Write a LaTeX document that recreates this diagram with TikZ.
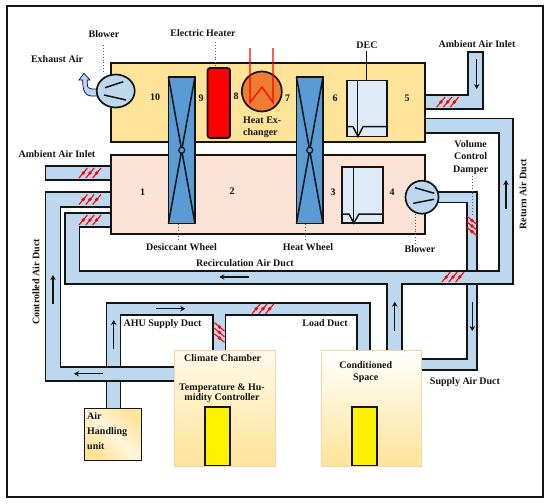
\documentclass[tikz,border=0pt]{standalone}
\usepackage{fontspec}
\usetikzlibrary{shapes.geometric,arrows.meta}
\setmainfont{Liberation Serif}
\definecolor{duct}{HTML}{BDD7EE}
\definecolor{ybox}{HTML}{FFE399}
\definecolor{pbox}{HTML}{FDE3D5}
\definecolor{wheelblue}{HTML}{5B9BD5}
\definecolor{pale}{HTML}{DEEBF7}
\definecolor{hxorange}{HTML}{ED7D31}
\definecolor{ink}{HTML}{141414}
\newcommand{\damperat}[4]{%
  \begin{scope}[shift={(#1,#2)},rotate=#3]
    \foreach \dd in {-#4,0,#4}{
      \draw[red,line width=1.1pt] (\dd-4.2,5) -- (\dd+4.2,-5);
      \fill[red] (\dd,0) circle (1.9);
    }
  \end{scope}}
\begin{document}
\begin{tikzpicture}[x=1pt,y=-1pt,
  lbl/.style={font=\fontsize{10}{11}\selectfont\bfseries,text=ink,inner sep=0pt,align=center},
  ductfill/.style={fill=duct,draw=none},
  ductline/.style={draw=ink,line width=1.7pt,line join=miter},
  boxline/.style={draw=ink,line width=1.7pt},
  flow/.style={draw=ink,line width=1.3pt,-{Stealth[length=5pt,width=5.5pt]}},
  leader/.style={draw=gray!70!black,line width=0.9pt,dotted},
  thick2/.style={draw=ink,line width=1.5pt},
  comp/.style={inner sep=0pt,outer sep=0pt,rectangle}]
\useasboundingbox (0,0) rectangle (550,504);
\fill[white] (0,0) rectangle (550,504);
\draw[draw=ink,line width=1.8pt] (7,6) rectangle (543,497);

% ---- ducts ----
% right ambient inlet
\fill[ductfill] (425,95) -- (468.3,95) -- (468.3,52) -- (482.7,52) -- (482.7,109) -- (425,109) -- cycle;
\draw[ductline] (425,95) -- (468.3,95) -- (468.3,52) -- (482.7,52) -- (482.7,109) -- (425,109);
% left ambient inlet
\fill[ductfill] (45.5,166) rectangle (111,180);
\draw[ductline] (111,166) -- (45.5,166) -- (45.5,180) -- (111,180);
% supply duct
\fill[ductfill] (430,192) -- (477.3,192) -- (477.3,370) -- (421,370) -- (421,359) -- (466.7,359) -- (466.7,202.5) -- (430,202.5) -- cycle;
\draw[ductline] (430,192) -- (477.3,192) -- (477.3,370) -- (421,370);
\draw[ductline] (430,202.5) -- (466.7,202.5) -- (466.7,359) -- (421,359);
% return + recirculation duct
\fill[ductfill] (425,118.5) -- (513,118.5) -- (513,284.3) -- (401.7,284.3) -- (401.7,350) -- (387,350) -- (387,284.3) -- (65,284.3) -- (65,213) -- (111,213) -- (111,227) -- (79.5,227) -- (79.5,270.7) -- (499,270.7) -- (499,133) -- (425,133) -- cycle;
\draw[ductline] (425,118.5) -- (513,118.5) -- (513,284.3) -- (401.7,284.3) -- (401.7,350);
\draw[ductline] (387,350) -- (387,284.3) -- (65,284.3) -- (65,213) -- (111,213);
\draw[ductline] (111,227) -- (79.5,227) -- (79.5,270.7) -- (499,270.7) -- (499,133) -- (425,133);
% AHU stub below controlled duct
\fill[ductfill] (106.5,375) rectangle (120.5,409);
\draw[ductline] (106.5,381) -- (106.5,409);
\draw[ductline] (120.5,381) -- (120.5,409);
% AHU supply + load duct
\fill[ductfill] (106.5,367) -- (106.5,302.7) -- (370,302.7) -- (370,350) -- (356.7,350) -- (356.7,315) -- (225.5,315) -- (225.5,350) -- (213.3,350) -- (213.3,315) -- (120.5,315) -- (120.5,367) -- cycle;
\draw[ductline] (106.5,367) -- (106.5,302.7) -- (370,302.7) -- (370,350);
\draw[ductline] (356.7,350) -- (356.7,315) -- (225.5,315) -- (225.5,350);
\draw[ductline] (213.3,350) -- (213.3,315) -- (120.5,315) -- (120.5,367);
% controlled air duct
\fill[ductfill] (111,192) -- (45.5,192) -- (45.5,381) -- (174.5,381) -- (174.5,366.7) -- (60.5,366.7) -- (60.5,207) -- (111,207) -- cycle;
\draw[ductline] (111,192) -- (45.5,192) -- (45.5,381) -- (174.5,381);
\draw[ductline] (111,207) -- (60.5,207) -- (60.5,366.7) -- (174.5,366.7);

% ---- dampers ----
\damperat{90}{173}{0}{6.8}
\damperat{90}{199.5}{0}{6.8}
\damperat{90}{220}{0}{6.8}
\damperat{447.7}{102}{0}{6.8}
\damperat{453}{277}{0}{6.8}
\damperat{263}{308.7}{0}{6.8}
\damperat{472}{226}{-90}{5.6}
\damperat{219.5}{332.5}{-90}{5.6}

% ---- AHU compartments ----
\node[comp,boxline,fill=ybox,minimum width=314pt,minimum height=79pt] (upper) at (268,102.5) {};
\node[comp,boxline,fill=pbox,minimum width=314pt,minimum height=79pt] (lower) at (268,194.5) {};

% wheels
\foreach \nm/\cx in {dw/181.7,hw/309.7}{
  \node[comp,boxline,fill=wheelblue,minimum width=26.5pt,minimum height=146.5pt] (\nm) at (\cx,150.2) {};
  \draw[thick2] (\nm.north west) -- (\nm.south east);
  \draw[thick2] (\nm.north east) -- (\nm.south west);
  \node[comp,circle,draw=ink,line width=1.2pt,fill=wheelblue,minimum size=6pt] (\nm hub) at (\cx,150.2) {};
}
% heater
\node[comp,boxline,fill=red,rounded corners=2.5pt,minimum width=22.5pt,minimum height=70pt] (heater) at (218.8,103) {};
% heat exchanger
\node[comp,circle,boxline,fill=hxorange,minimum size=40pt] (hx) at (261.8,91.5) {};
\coordinate (hxa) at (250,48);
\coordinate (hxb) at (250,102.5);
\coordinate (hxc) at (262,87);
\coordinate (hxd) at (273,102.5);
\coordinate (hxe) at (273,48);
\draw[red,line width=1.2pt] (hxa) -- (hxb) -- (hxc) -- (hxd) -- (hxe);
% DEC
\node[comp,boxline,fill=pale,minimum width=40.5pt,minimum height=56pt] (dec) at (367,108.5) {};
\draw[thick2] (357.7,80.5) -- (357.7,136.5);
\draw[thick2] (346.7,126.7) -- (353,126.7) -- (358,136.5) -- (363,126.7) -- (387.3,126.7);
% lower evaporative unit
\node[comp,boxline,fill=pale,minimum width=40.5pt,minimum height=56pt] (cooler) at (362.5,195) {};
\draw[thick2] (353.3,167) -- (353.3,223);
\draw[thick2] (342.3,214) -- (349,214) -- (353.8,223) -- (359,214) -- (382.7,214);
% blowers
\fill[duct,draw=blue!45!black,line width=0.7pt] (84,73.3) -- (90,80) -- (87.3,80) -- (87.3,84) .. controls (87.3,87.5) and (89,89) .. (92,89) -- (100,89) -- (100,96) -- (91,96) .. controls (85,95.5) and (82.7,91) .. (82.7,80) -- (79,80) -- cycle;
\node[comp,ellipse,boxline,fill=duct,minimum width=38pt,minimum height=33pt] (blowerA) at (115.7,91) {};
\draw[thick2] (105,87.7) -- (123.3,81.7);
\draw[thick2] (104,95) -- (126,100);
\node[comp,circle,boxline,fill=duct,minimum size=33pt] (blowerB) at (422,197.2) {};
\draw[thick2] (415,187.7) -- (434.3,193.3);
\draw[thick2] (413.3,203.3) -- (434,199.3);

% ---- rooms ----
\node[comp,draw=ybox!70!brown!70,line width=0.7pt,top color=white!80!ybox,bottom color=ybox,minimum width=101pt,minimum height=116pt] (chamber) at (225,408) {};
\node[comp,draw=ybox!70!brown!70,line width=0.7pt,top color=white,bottom color=ybox,minimum width=100.7pt,minimum height=116pt] (space) at (371.3,408) {};
\node[comp,boxline,fill=yellow,minimum width=24.4pt,minimum height=58.3pt] (chamberY) at (217.5,436.2) {};
\node[comp,boxline,fill=yellow,minimum width=24.4pt,minimum height=58.3pt] (spaceY) at (364.5,436.2) {};
\node[comp,boxline,bottom color=ybox,top color=ybox,middle color=ybox!35,shading angle=-45,minimum width=57pt,minimum height=52pt] (ahu) at (113,434.5) {};

% ---- labels ----
\node[lbl] (tBlowerA) at (104,34.5) {Blower};
\node[lbl] (tHeater) at (203,33.5) {Electric Heater};
\node[lbl] (tExhaust) at (57,59) {Exhaust Air};
\node[lbl] (tAmbL) at (57,154) {Ambient Air Inlet};
\node[lbl] (tAmbR) at (477,44) {Ambient Air Inlet};
\node[lbl] (tDEC) at (367,45) {DEC};
\node[lbl] (n10) at (155,97) {10};
\node[lbl] (n9) at (201,98) {9};
\node[lbl] (n8) at (236,96) {8};
\node[lbl] (n7) at (287.7,98.5) {7};
\node[lbl] (n6) at (335,98.5) {6};
\node[lbl] (n5) at (407,98.5) {5};
\node[lbl] (n1) at (142.5,192.5) {1};
\node[lbl] (n2) at (232,191.5) {2};
\node[lbl] (n3) at (333,192.5) {3};
\node[lbl] (n4) at (392,192) {4};
\node[lbl,align=left,anchor=north west,font=\fontsize{10}{12.5}\selectfont\bfseries] (tHX) at (243,116.5) {Heat Ex-\\changer};
\node[lbl] (tDW) at (181.5,247) {Desiccant Wheel};
\node[lbl] (tHW) at (308,247.5) {Heat Wheel};
\node[lbl] (tBlowerB) at (420,249) {Blower};
\node[lbl,font=\fontsize{10}{12.5}\selectfont\bfseries] (tVCD) at (470.7,157.5) {Volume\\Control\\Damper};
\node[lbl,rotate=90] (tReturn) at (523,194) {Return Air Duct};
\node[lbl,rotate=90] (tControlled) at (36,282) {Controlled Air Duct};
\node[lbl] (tRecirc) at (245,263.5) {Recirculation Air Duct};
\node[lbl] (tAHUS) at (162.5,323.7) {AHU Supply Duct};
\node[lbl] (tLoad) at (325,323.5) {Load Duct};
\node[lbl] (tCC) at (222.7,358) {Climate Chamber};
\node[lbl,font=\fontsize{10}{10.4}\selectfont\bfseries] (tTH) at (222,393.5) {Temperature \& Hu-\\midity Controller};
\node[lbl,font=\fontsize{10}{12.5}\selectfont\bfseries] (tSpace) at (365.7,372) {Conditioned\\Space};
\node[lbl] (tSupply) at (465,382.5) {Supply Air Duct};
\node[lbl,align=left,anchor=north west,font=\fontsize{10}{15.2}\selectfont\bfseries] (tAHU) at (87,412) {Air\\Handling\\unit};

% ---- leaders ----
\coordinate (lA1) at (103.7,45);  \coordinate (lA2) at (103.7,74);
\coordinate (lB1) at (215,42);    \coordinate (lB2) at (215,67);
\coordinate (lC1) at (178,224);   \coordinate (lC2) at (178,240);
\coordinate (lD1) at (305.7,224); \coordinate (lD2) at (305.7,241);
\coordinate (lE1) at (415,214);   \coordinate (lE2) at (415,244);
\coordinate (lF1) at (472,176);   \coordinate (lF2) at (472,216);
\coordinate (lG1) at (366.7,51);  \coordinate (lG2) at (366.7,80);
\draw[leader] (lA1) -- (lA2);
\draw[leader] (lB1) -- (lB2);
\draw[leader] (lC1) -- (lC2);
\draw[leader] (lD1) -- (lD2);
\draw[leader] (lE1) -- (lE2);
\draw[leader] (lF1) -- (lF2);
\draw[draw=ink,line width=0.6pt] (lG1) -- (lG2);

% ---- flow arrows ----
\coordinate (f1a) at (476.7,59);  \coordinate (f1b) at (476.7,89);
\coordinate (f2a) at (506,209);   \coordinate (f2b) at (506,180);
\coordinate (f3a) at (249,277);   \coordinate (f3b) at (219.3,277);
\coordinate (f4a) at (53,304);    \coordinate (f4b) at (53,275);
\coordinate (f5a) at (102.7,373.7); \coordinate (f5b) at (74,373.7);
\coordinate (f6a) at (113.7,349); \coordinate (f6b) at (113.7,320);
\coordinate (f7a) at (156,308.7); \coordinate (f7b) at (185.3,308.7);
\coordinate (f8a) at (394.7,330.7); \coordinate (f8b) at (394.7,301.7);
\coordinate (f9a) at (472.3,301.7); \coordinate (f9b) at (472.3,331);
\foreach \k in {1,...,9}{\draw[flow] (f\k a) -- (f\k b);}
\end{tikzpicture}
\end{document}
